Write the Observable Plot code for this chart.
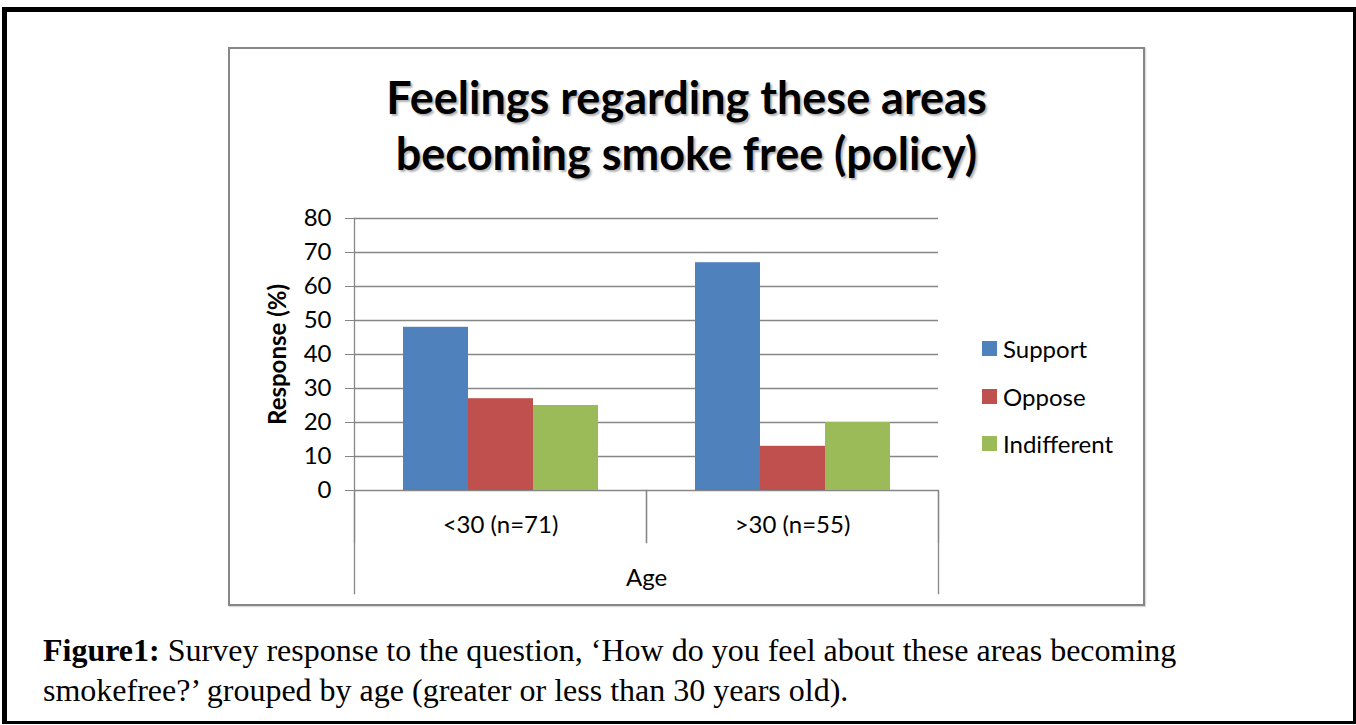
<!DOCTYPE html>
<html>
<head>
<meta charset="utf-8">
<script src="https://cdn.jsdelivr.net/npm/d3@7"></script>
<script src="https://cdn.jsdelivr.net/npm/@observablehq/plot@0.6"></script>
<style>
  html, body { margin: 0; padding: 0; background: #fff; }
  body { width: 1356px; height: 725px; position: relative; overflow: hidden; font-family: Lato, sans-serif; }
  #page-frame {
    position: absolute; left: 2px; top: 7px; width: 1354px; height: 717px; box-sizing: border-box;
    border-left: 5px solid #000; border-top: 5px solid #000; border-right: 3px solid #000; border-bottom: 3px solid #000;
  }
  #chart-box {
    position: absolute; left: 228px; top: 47px; width: 917px; height: 559px; box-sizing: border-box;
    border: 2px solid #878787; box-shadow: 1px 1px 1px rgba(0,0,0,0.15);
  }
  #chart { position: absolute; left: 228px; top: 47px; }
  #title {
    position: absolute; left: 228px; top: 69px; width: 917px; text-align: center;
    font-family: Lato, sans-serif; font-weight: bold; font-size: 45px; line-height: 56px; color: #000;
    text-shadow: 2px 2px 2px rgba(0,0,0,0.3);
  }
  #legend { position: absolute; left: 982px; top: 325px; }
  #legend .lg-swatches { font-family: Lato, sans-serif; font-size: 24px; color: #000; margin: 0; }
  #legend .lg-swatch { height: 47.5px; padding: 0; display: flex; align-items: center; }
  #legend .lg-swatch > svg { margin-right: 6px; }
  #caption {
    position: absolute; left: 43px; top: 630px; width: 1300px; white-space: nowrap;
    font-family: "Liberation Serif", "Times New Roman", serif; font-size: 32px; line-height: 40px; color: #000;
  }
  g[aria-label="y-axis label"] text { font-weight: bold; }
</style>
</head>
<body>
<div id="page-frame"></div>
<div id="chart-box"></div>
<div id="chart"></div>
<div id="title">Feelings regarding these areas<br>becoming smoke free (policy)</div>
<div id="legend"></div>
<div id="caption"><b>Figure1:</b> Survey response to the question, ‘How do you feel about these areas becoming<br>smokefree?’ grouped by age (greater or less than 30 years old).</div>
<script>
// Age groups on the category axis
const groups = ["<30 (n=71)", ">30 (n=55)"];
// Response categories (one bar each per age group)
const series = ["Support", "Oppose", "Indifferent"];
// Percentage responding, per age group
const support = [48, 67];
const oppose = [27, 13];
const indifferent = [25, 20];
const seriesColors = ["#4F81BD", "#C0504D", "#9BBB59"];
const yTicks = [0, 10, 20, 30, 40, 50, 60, 70, 80];

const rows = groups.flatMap((g, i) => [
  {group: g, series: "Support", value: support[i]},
  {group: g, series: "Oppose", value: oppose[i]},
  {group: g, series: "Indifferent", value: indifferent[i]}
]);

const gray = "#868686";
const plotHeight = 559 - 171 - 116;

const chart = Plot.plot({
  width: 917,
  height: 559,
  marginLeft: 126,
  marginRight: 207,
  marginTop: 171,
  marginBottom: 116,
  style: {fontFamily: "Lato, sans-serif", fontSize: "24px", color: "#000", background: "transparent", overflow: "visible"},
  fx: {domain: groups, padding: 0},
  x: {domain: series, paddingInner: 0, paddingOuter: 0.745, axis: null},
  y: {domain: [0, 80]},
  color: {domain: series, range: seriesColors},
  marks: [
    Plot.gridY(yTicks, {stroke: gray, strokeOpacity: 1, strokeWidth: 1.3}),
    Plot.barY(rows, {fx: "group", x: "series", y: "value", fill: "series"}),
    Plot.axisY(yTicks, {
      tickSize: 9, tickPadding: 14, stroke: gray, fill: "#000",
      label: "Response (%)", labelAnchor: "center", labelArrow: "none", labelOffset: 86
    }),
    Plot.axisFx({
      anchor: "bottom", tickSize: 0, tickPadding: 25, fill: "#000",
      label: "Age", labelAnchor: "center", labelArrow: "none", labelOffset: 95
    }),
    // short dividers between the age groups below the baseline
    Plot.frame({anchor: "left", insetTop: plotHeight, insetBottom: -52, stroke: gray, strokeWidth: 1.3}),
    Plot.frame({anchor: "right", insetTop: plotHeight, insetBottom: -52, stroke: gray, strokeWidth: 1.3}),
    // value axis line, continuing down around the category labels
    Plot.frame({anchor: "left", facet: "super", insetBottom: -103, stroke: gray, strokeWidth: 1.3}),
    Plot.frame({anchor: "right", facet: "super", insetTop: plotHeight, insetBottom: -103, stroke: gray, strokeWidth: 1.3})
  ]
});
document.getElementById("chart").appendChild(chart);

const legend = Plot.legend({
  color: {domain: series, range: seriesColors},
  legend: "swatches",
  columns: 1,
  swatchSize: 15,
  className: "lg"
});
document.getElementById("legend").appendChild(legend);
</script>
</body>
</html>
